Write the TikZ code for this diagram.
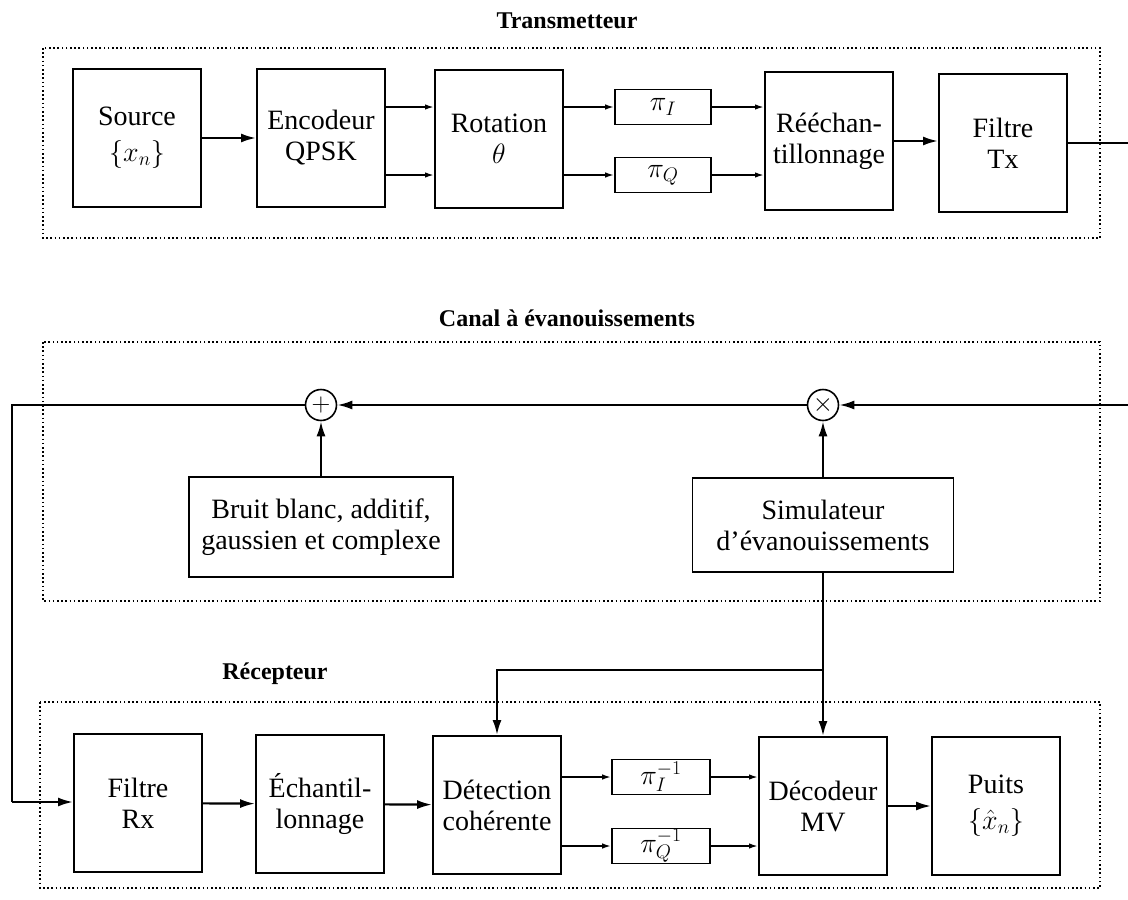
\RequirePackage{fix-cm}
\documentclass[tikz,border=0pt]{standalone}
\usepackage{fontspec}
\setmainfont{Liberation Serif}
\usetikzlibrary{arrows.meta}

\begin{document}
\begin{tikzpicture}[x=1pt,y=-1pt,
  font=\fontsize{28}{31}\selectfont,
  blk/.style={draw, line width=1.9pt, minimum width=128pt, minimum height=138pt,
              align=center, inner sep=2pt},
  perm/.style={draw, line width=1.7pt, minimum width=96pt, minimum height=35pt, inner sep=0pt},
  wide/.style={draw, line width=1.9pt, align=center, inner sep=2pt},
  sumnode/.style={circle, draw, line width=1.6pt, minimum size=31pt, inner sep=0pt,
                  font=\fontsize{26}{26}\selectfont},
  group/.style={draw, line width=1.7pt, dash pattern=on 1.6pt off 2.6pt},
  title/.style={font=\fontsize{24}{28}\selectfont\bfseries},
  bigarrow/.style={line width=2.2pt, -{Latex[length=15pt,width=9pt]}},
  smallarrow/.style={line width=1.7pt, -{Latex[length=9pt,width=5.5pt]}},
  wire/.style={line width=2.2pt}]
\useasboundingbox (0,0) rectangle (1128,900);

% ---------------- Transmitter ----------------
\node[title] (ttx) at (567,21) {Transmetteur};
\draw[group] (43,48) rectangle (1100,238);

\node[blk] (src) at (137,138) {Source\\[5pt]$\{x_n\}$};
\node[blk] (enc) at (321,138) {Encodeur\\QPSK};
\node[blk] (rot) at (499,139) {Rotation\\$\theta$};
\node[perm] (piI) at (663,107) {$\pi_I$};
\node[perm] (piQ) at (663,175) {$\pi_Q$};
\node[blk] (ree) at (829,141) {Rééchan-\\tillonnage};
\node[blk] (ftx) at (1003,143) {Filtre\\Tx};
\coordinate (txout) at (1128,143);

\draw[bigarrow] (src) -- (enc);
\draw[smallarrow] (enc.east |- piI) -- (rot.west |- piI);
\draw[smallarrow] (enc.east |- piQ) -- (rot.west |- piQ);
\draw[smallarrow] (rot.east |- piI) -- (piI);
\draw[smallarrow] (rot.east |- piQ) -- (piQ);
\draw[smallarrow] (piI) -- (ree.west |- piI);
\draw[smallarrow] (piQ) -- (ree.west |- piQ);
\draw[bigarrow] (ree) -- (ree -| ftx.west);
\draw[wire] (ftx) -- (txout);

% ---------------- Fading channel ----------------
\node[title] (tch) at (567,318) {Canal à évanouissements};
\draw[group] (43,342) rectangle (1100,601);

\node[sumnode] (add) at (321,405) {$+$};
\node[sumnode] (mul) at (823,405) {$\times$};
\node[wide, minimum width=264pt, minimum height=100pt] (awgn) at (321,527)
  {Bruit blanc, additif,\\gaussien et complexe};
\node[wide, minimum width=261pt, minimum height=94pt] (fad) at (823,525)
  {Simulateur\\d’évanouissements};
\coordinate (chin) at (1128,405);
\coordinate (lft) at (12,405);
\coordinate (lfb) at (12,802);

\draw[bigarrow] (chin) -- (mul);
\draw[bigarrow] (mul) -- (add);
\draw[bigarrow] (awgn) -- (add);
\draw[bigarrow] (fad) -- (mul);

% ---------------- Receiver ----------------
\node[title] (trx) at (275,674) {Récepteur};
\draw[group] (40,702) rectangle (1100,888);

\node[blk] (frx) at (138,803) {Filtre\\Rx};
\node[blk] (ech) at (320,804) {Échantil-\\lonnage};
\node[blk] (det) at (497,805) {Détection\\cohérente};
\node[perm, minimum width=98pt] (piIi) at (661,777) {$\pi_I^{-1}$};
\node[perm, minimum width=98pt] (piQi) at (661,846) {$\pi_Q^{-1}$};
\node[blk] (dec) at (823,806) {Décodeur\\MV};
\node[blk] (snk) at (996,806) {Puits\\[5pt]$\{\hat{x}_n\}$};
\coordinate (jn) at (823,670);
\coordinate (jl) at (497,670);

\draw[wire] (add) -- (lft) -- (lfb);
\draw[bigarrow] (lfb) -- (frx.west |- lfb);
\draw[bigarrow] (frx) -- (ech);
\draw[bigarrow] (ech) -- (det);
\draw[smallarrow] (det.east |- piIi) -- (piIi);
\draw[smallarrow] (det.east |- piQi) -- (piQi);
\draw[smallarrow] (piIi) -- (dec.west |- piIi);
\draw[smallarrow] (piQi) -- (dec.west |- piQi);
\draw[bigarrow] (dec) -- (snk);
\draw[wire] (fad) -- (jn);
\draw[bigarrow] (jn) -- (dec);
\draw[bigarrow] (jn) -- (jl) -- (det);
\end{tikzpicture}
\end{document}
